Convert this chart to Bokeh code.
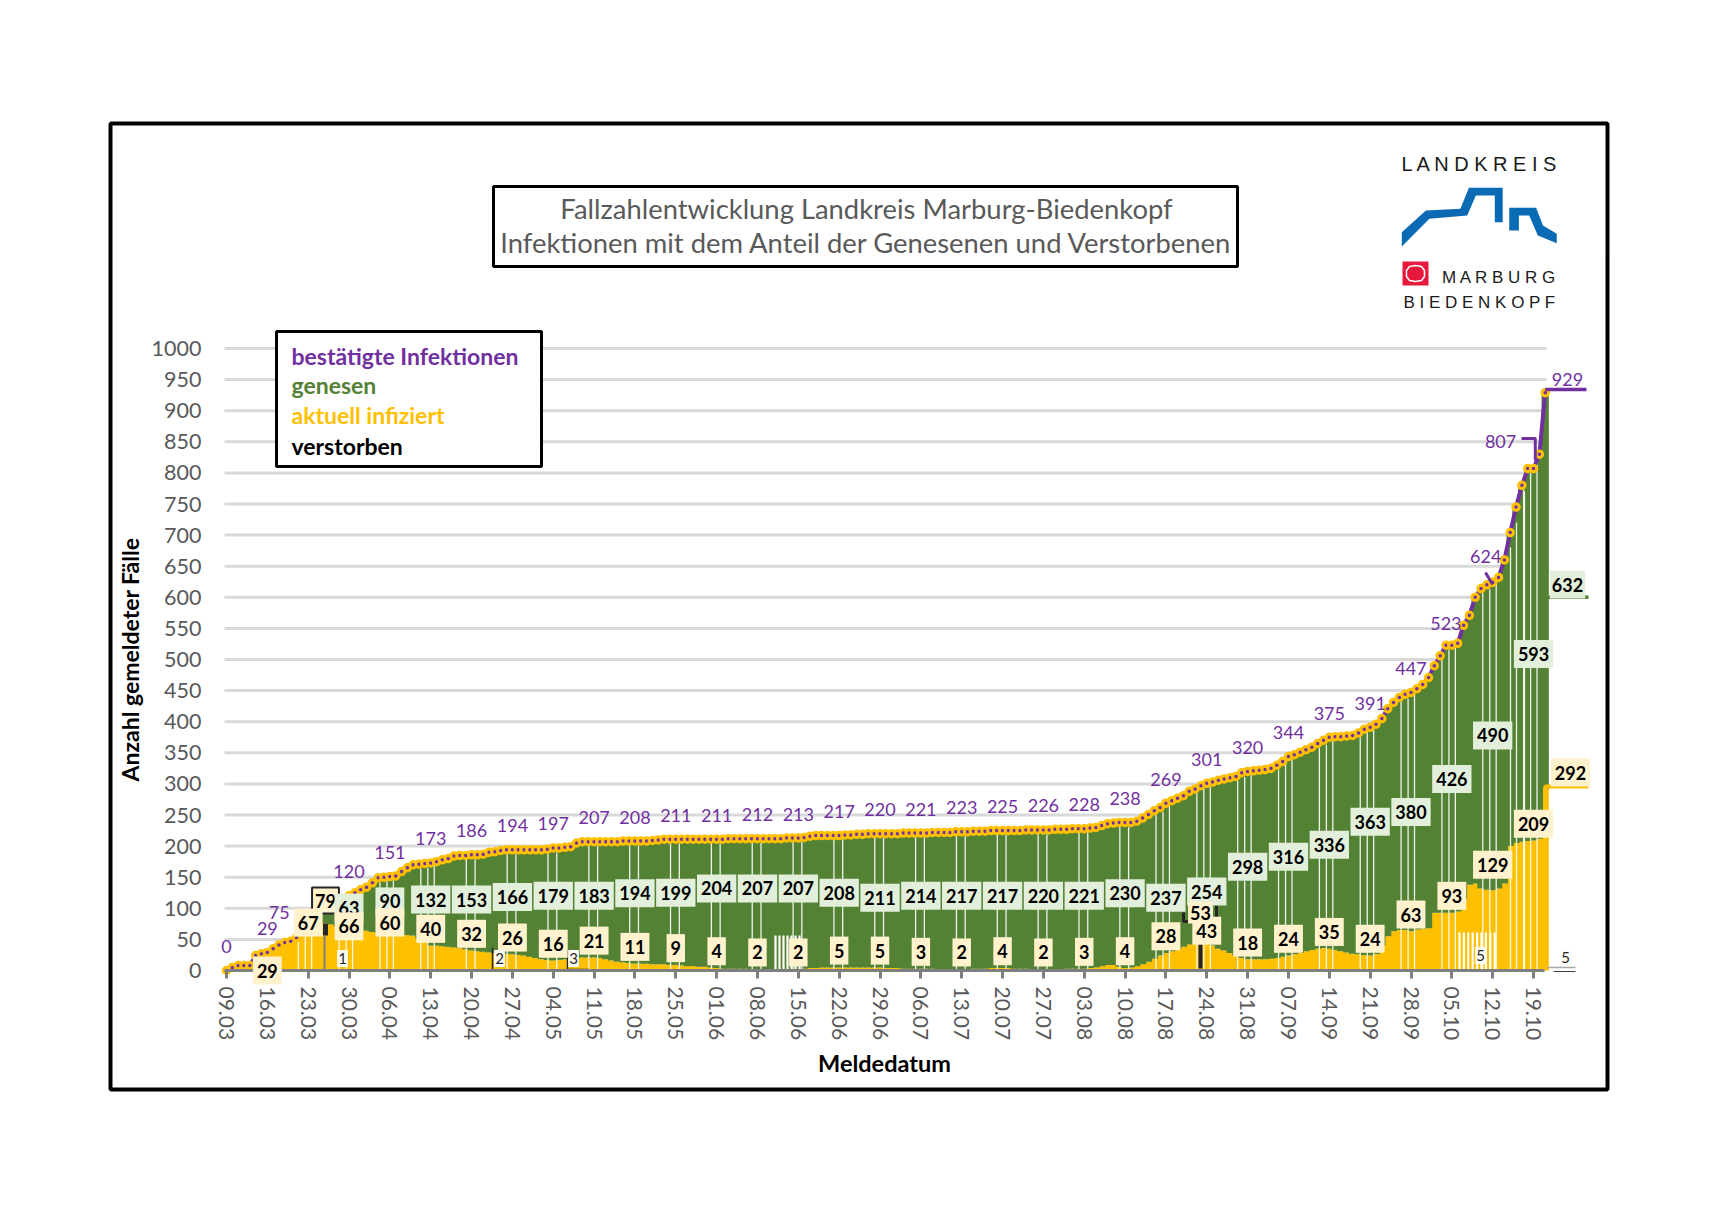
from bokeh.plotting import figure
from bokeh.models import Range1d, FixedTicker, Label, BoxAnnotation, PolyAnnotation
from bokeh.embed import file_html
from bokeh.resources import INLINE

# ---------- data ----------
tick_labels = ["09.03","16.03","23.03","30.03","06.04","13.04","20.04","27.04","04.05","11.05","18.05",
               "25.05","01.06","08.06","15.06","22.06","29.06","06.07","13.07","20.07","27.07","03.08",
               "10.08","17.08","24.08","31.08","07.09","14.09","21.09","28.09","05.10","12.10","19.10"]
y_ticks = [0,50,100,150,200,250,300,350,400,450,500,550,600,650,700,750,800,850,900,950,1000]

total = [
 0,5,8,8,8,24,27, 29,35,41,45,47,53,60, 75,90,97,100,103,108,114,
 120,125,130,134,141,149,150, 151,152,159,165,170,171,172, 173,175,178,180,184,185,185,
 186,186,187,190,191,193,194, 194,194,194,194,194,194,195, 197,197,198,199,205,207,207,
 207,207,207,207,207,208,208, 208,208,208,209,210,211,211, 211,211,211,211,211,211,211,
 211,211,212,212,212,212,212, 212,212,212,212,212,213,213, 213,214,216,217,217,217,217,
 217,218,218,219,219,220,220, 220,220,220,220,221,221,221, 221,221,222,222,222,222,223,
 223,223,224,224,224,225,225, 225,225,225,225,226,226,226, 226,226,227,227,227,228,228,
 228,229,230,233,236,237,238, 238,238,240,245,251,257,262, 269,273,277,281,288,292,297,
 301,303,306,308,310,312,318, 320,321,322,323,325,330,336, 344,347,351,355,359,365,370,
 375,376,376,377,378,382,388, 391,396,405,421,431,439,444, 447,453,460,471,490,506,523,
 523,526,555,571,600,614,620, 624,632,660,704,745,780,807, 807,830,929]

infected = [
 0,5,8,8,8,24,27, 29,35,41,45,47,53,60, 67,72,79,76,74,71,68,
 66,66,66,64,62,61,60, 60,60,58,57,56,51,46, 40,40,39,38,37,36,34,
 32,31,30,29,28,27,27, 26,25,24,22,20,18,17, 16,17,18,19,21,21,21,
 21,20,18,16,14,13,12, 11,11,11,10,10,10,9, 9,8,7,7,6,6,5,
 4,3,3,3,3,3,2, 2,2,2,2,2,2,2, 2,3,4,4,5,5,5,
 5,5,5,5,5,5,5, 5,4,4,4,3,3,3, 3,3,3,2,2,2,2,
 2,2,3,3,3,4,4, 4,4,3,3,3,2,2, 2,2,2,2,3,3,3,
 3,4,5,7,9,9,6, 4,5,7,10,14,19,24, 28,31,34,38,42,48,46,
 43,40,35,32,28,24,20, 18,18,18,18,19,20,22, 24,26,28,31,33,35,36,
 35,33,31,29,27,26,25, 24,26,40,55,63,65,65, 63,66,67,68,93,93,93,
 93,95,115,138,140,132,130, 129,132,140,200,205,207,208, 209,212,292]

total_labels = [0,29,75,120,151,173,186,194,197,207,208,211,211,212,213,217,220,221,223,225,226,228,
                238,269,301,320,344,375,391,447,523,624,807]
recovered_labels = [63,90,132,153,166,179,183,194,199,204,207,207,208,211,214,217,217,220,221,230,237,
                    254,298,316,336,363,380,426,490,593]      # from 30.03
infected_labels = [29,67,66,60,40,32,26,16,21,11,9,4,2,2,5,5,3,2,4,2,3,4,28,43,18,24,35,24,63,93,129,209]  # from 16.03
final_total, final_recovered, final_infected, final_deaths = 929, 632, 292, 5

# ---------- layout ----------
PX0, PXD = 226.0, 5.835   # page x of day 0, px per day
PY0, PYV = 970.0, 0.622   # page y of value 0, px per case
D = lambda px: (px - PX0) / PXD
V = lambda py: (PY0 - py) / PYV
W, H = 1715, 1210

PURPLE, GREEN, ORANGE = "#7030a0", "#548235", "#ffc000"
PALE_G, PALE_O = "#e2efda", "#fff2cc"
GREY_T, GREY_L = "#595959", "#7f7f7f"
FONT = "Lato"

days = list(range(len(total)))
tick_days = [7 * i for i in range(len(tick_labels))]

# the plot area fills the whole canvas so that nothing is clipped
p = figure(width=W, height=H, output_backend="svg", toolbar_location=None,
           x_range=Range1d(D(0), D(W)), y_range=Range1d(V(H), V(0)),
           min_border_left=0, min_border_right=0, min_border_top=0, min_border_bottom=0,
           background_fill_color="white", border_fill_color="white")
p.outline_line_color = None
p.grid.visible = False

# axes
xa, ya = p.xaxis[0], p.yaxis[0]
xa.fixed_location = 0
xa.bounds = (D(224), D(1544))
xa.ticker = FixedTicker(ticks=tick_days)
xa.major_label_overrides = {d: t for d, t in zip(tick_days, tick_labels)}
xa.major_label_orientation = "vertical"
xa.major_label_text_font = FONT
xa.major_label_text_font_size = "21px"
xa.major_label_text_color = GREY_T
xa.major_label_standoff = 8
xa.axis_line_color = GREY_L
xa.axis_line_width = 3
xa.major_tick_line_color = GREY_L
xa.major_tick_line_width = 3
xa.major_tick_out = 8
xa.major_tick_in = 0
xa.minor_tick_line_color = None
xa.axis_label = "Meldedatum"
xa.axis_label_text_font = FONT
xa.axis_label_text_font_style = "bold"
xa.axis_label_text_font_size = "23.5px"
xa.axis_label_text_color = "black"
xa.axis_label_standoff = 6

ya.fixed_location = D(224)
ya.bounds = (0, 1000)
ya.ticker = FixedTicker(ticks=y_ticks)
ya.major_label_text_font = FONT
ya.major_label_text_font_size = "21.5px"
ya.major_label_text_color = GREY_T
ya.major_label_standoff = 17
ya.axis_line_color = None
ya.major_tick_line_color = None
ya.minor_tick_line_color = None
ya.axis_label = "Anzahl gemeldeter Fälle"
ya.axis_label_text_font = FONT
ya.axis_label_text_font_style = "bold"
ya.axis_label_text_font_size = "23px"
ya.axis_label_text_color = "black"
ya.axis_label_standoff = 5

# grid
p.segment(x0=[D(224)] * (len(y_ticks) - 1), x1=[D(1546)] * (len(y_ticks) - 1), y0=y_ticks[1:], y1=y_ticks[1:],
          line_color="#d9d9d9", line_width=3)

# stacked columns
p.vbar(x=days, width=1.25, bottom=0, top=infected, fill_color=ORANGE, line_color=None)
p.vbar(x=days, width=1.25, bottom=infected, top=total, fill_color=GREEN, line_color=None)

# pale column seams around the weekly labels
sx, sy = [], []
for i, d in enumerate(tick_days[2:], start=2):
    for off in ((-1.7, -0.5, 0.6) if i >= 23 or i < 6 else (-0.9, 0.6)):
        dd = int(round(d + off))
        sx.append(d + off)
        sy.append(total[dd] - 7)
p.segment(x0=sx, x1=sx, y0=[0] * len(sx), y1=sy, line_color="white", line_width=1.3, line_alpha=0.9)
patch_x = [D(1459 + i * 4.4) for i in range(9)] + [D(775 + i * 4.0) for i in range(7)]
patch_y = [V(932)] * 9 + [V(935)] * 7
p.segment(x0=patch_x, x1=patch_x, y0=[0] * len(patch_x), y1=patch_y, line_color="white", line_width=2.2)
late_x = [D(1510), D(1516), D(1524)]
p.segment(x0=late_x, x1=late_x, y0=[0] * 3, y1=[680, 720, 770], line_color="white", line_width=1.3, line_alpha=0.9)

# total line + markers
p.line(days, total, line_color=PURPLE, line_width=4)
p.scatter(days, total, size=6.5, marker="circle", fill_color=PURPLE, line_color=ORANGE, line_width=3)

# leader lines
p.line([days[-1], D(1586)], [total[-1] + 5] * 2, line_color=PURPLE, line_width=3.5)
p.line([days[-1] + 0.3, D(1588)], [600, 600], line_color=GREEN, line_width=3.5)
p.line([days[-1], days[-1], D(1588)], [V(960), final_infected + 4, final_infected + 4], line_color=ORANGE, line_width=4)
p.line([D(1521), 224.3, 224.3], [V(438), V(438), V(460)], line_color=PURPLE, line_width=3)
p.line([D(1485), D(1492)], [V(572), V(584)], line_color=PURPLE, line_width=3)
p.line([D(325), D(325)], [V(923), V(935)], line_color="#262626", line_width=5)
p.line([D(324), D(324)], [V(935), 0], line_color=GREY_L, line_width=2)
p.line([D(1200), D(1200)], [V(942), V(968)], line_color="#262626", line_width=4)
p.line([D(1183), D(1183), D(1194)], [V(912), V(921), V(921)], line_color="#262626", line_width=3)
p.line([D(1216), D(1216)], [V(905), V(917)], line_color="#262626", line_width=3)
p.line([D(1547), D(1575)], [V(967), V(967)], line_color="#a6a6a6", line_width=1.5)
p.line([D(1553), D(1575)], [V(971), V(971)], line_color="#404040", line_width=1)

# labels
def lab(text, d, v, color="black", bold=True, bg=None, size=18, border=None, dx=0, dy=0, pad=(4, 7)):
    p.add_layout(Label(x=d, y=v, text=str(text), text_color=color, text_font=FONT,
                       text_font_style="bold" if bold else "normal", text_font_size=f"{size}px",
                       text_align="center", text_baseline="middle", x_offset=dx, y_offset=dy,
                       background_fill_color=bg, border_line_color=border, border_line_width=2,
                       padding=pad if bg else 0))

total_shift = {"75": (-29, 11), "807": (-33, 27), "624": (-7, 26), "523": (-6, 22)}
for d, t in zip(tick_days, total_labels):
    dx, dy = total_shift.get(str(t), (0, 24))
    lab(t, d, t, color=PURPLE, bold=False, dx=dx, dy=dy)
lab(final_total, D(1567), V(379), color=PURPLE, bold=False)

lab(79, D(325), V(900), bg=PALE_O, border="#262626", pad=(3, 6))

rec_at = [101,111,114,114,118,120,120,124,125,132,132,132,125,117,120,120,120,120,120,124,117,127,
          167,183,202,239,255,308,378,509]
for d, r, v in zip(tick_days[3:], recovered_labels, rec_at):
    lab(r, d, v, bg=PALE_G)
lab(final_recovered, D(1567), V(584), bg=PALE_G, pad=(2, 7))

inf_at = {1: 0, 2: 77, 3: 71, 4: 77, 24: 64, 31: 170}
for i, (d, n) in enumerate(zip(tick_days[1:], infected_labels)):
    lab(n, d, inf_at.get(i + 1, n + 27), bg=PALE_O)
lab(final_infected, D(1570), V(772), bg=PALE_O)
lab(53, D(1200), V(912), bg=PALE_O, pad=(2, 4))

for t, x, y in [(1, 342, 958), (2, 499, 958), (3, 573, 958), (final_deaths, 1480, 955), (final_deaths, 1565, 957)]:
    lab(t, D(x), V(y), bg="#fdfdf8", size=15, pad=(1, 3), color="#262626", bold=False)
p.line([D(335), D(350)], [V(970)] * 2, line_color="#262626", line_width=1.5)
p.line([D(492), D(492), D(508)], [V(947), V(970), V(970)], line_color="#262626", line_width=1.5)
p.line([D(567), D(567), D(588)], [V(950), V(969), V(969)], line_color="#262626", line_width=1.5)

# frames (canvas coordinates)
def box(l, r, t, b, lw=3, fill=None, color="black"):
    p.add_layout(BoxAnnotation(left=l, right=r, top=t, bottom=b, left_units="canvas",
                               right_units="canvas", top_units="canvas", bottom_units="canvas",
                               fill_color=fill, fill_alpha=1 if fill else 0, line_color=color, line_width=lw,
                               line_alpha=1 if color else 0))

def txt(text, x, y, size, color="black", bold=False, font=FONT, align="left"):
    p.add_layout(Label(x=x, y=y, x_units="canvas", y_units="canvas", text=text, text_color=color,
                       text_font=font, text_font_size=f"{size}px", text_font_style="bold" if bold else "normal",
                       text_align=align, text_baseline="middle"))

def poly(xs, ys, fill=None, line=None, lw=1):
    p.add_layout(PolyAnnotation(xs=list(xs), ys=list(ys), xs_units="canvas", ys_units="canvas",
                                fill_color=fill, fill_alpha=1 if fill else 0, line_color=line, line_width=lw,
                                line_alpha=1 if line else 0))

box(110, 1607, 123, 1089, lw=4)
box(493, 1237, 186, 266, lw=3, fill="white")
txt("Fallzahlentwicklung Landkreis Marburg-Biedenkopf", 866, 208, 27.4, GREY_T, align="center")
txt("Infektionen mit dem Anteil der Genesenen und Verstorbenen", 866, 242, 27.4, GREY_T, align="center")

box(276, 541, 331, 466, lw=3, fill="white")
for name, y, col in [("bestätigte Infektionen", 355, PURPLE), ("genesen", 384, GREEN),
                     ("aktuell infiziert", 414, ORANGE), ("verstorben", 445, "black")]:
    txt(name, 291, y, 23, col, bold=True)

# logo
lx = lambda v: 1100 + v / 2.904
ly = lambda v: 100 + v / 3
poly([lx(v) for v in (875,945,1045,1070,1168,1168,1145,1145,1090,1065,955,875)],
     [ly(v) for v in (395,330,325,262,262,365,365,285,285,345,355,438)], fill="#0a6ab4")
poly([lx(v) for v in (1187,1265,1285,1325,1325,1270,1245,1215,1215,1187)],
     [ly(v) for v in (322,322,375,400,428,405,345,345,390,390)], fill="#0a6ab4")
box(1402, 1428, 261, 285, lw=0, fill="#e8173c", color=None)
poly([1409,1415,1421,1424,1424,1421,1415,1409,1406,1406], [266,265,266,270,276,280,281,280,276,270], line="white", lw=1.5)
txt("L A N D K R E I S", 1480, 163, 20, "#1a1a1a", font="Liberation Sans", align="center")
txt("M A R B U R G", 1499, 277, 17, "#1a1a1a", font="Liberation Sans", align="center")
txt("B I E D E N K O P F", 1479, 302, 17, "#1a1a1a", font="Liberation Sans", align="center")

open("out.html", "w").write(file_html(p, INLINE))
